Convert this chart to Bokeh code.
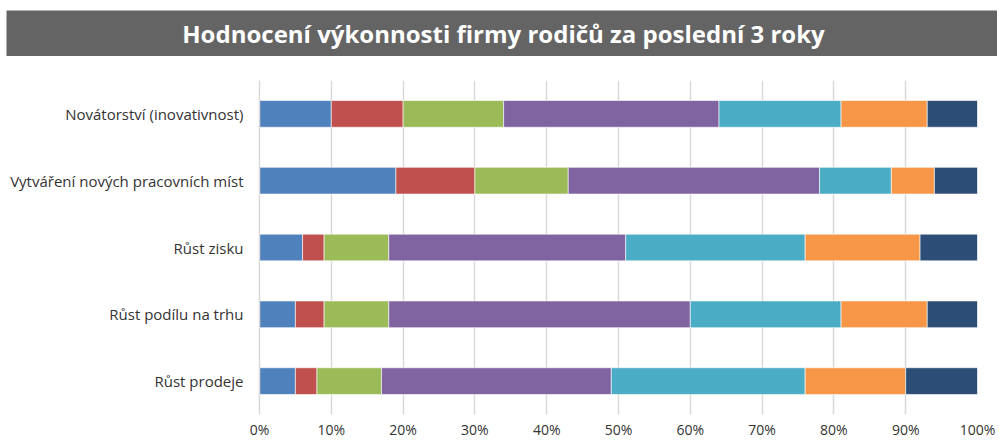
from bokeh.plotting import figure
from bokeh.layouts import column, row
from bokeh.models import ColumnDataSource, FixedTicker, Range1d, Label, Spacer, CustomJSTickFormatter
from bokeh.embed import file_html
from bokeh.resources import INLINE

title_text = "Hodnocení výkonnosti firmy rodičů za poslední 3 roky"

categories = [
    "Novátorství (inovativnost)",
    "Vytváření nových pracovních míst",
    "Růst zisku",
    "Růst podílu na trhu",
    "Růst prodeje",
]

s1 = [10, 19, 6, 5, 5]
s2 = [10, 11, 3, 4, 3]
s3 = [14, 13, 9, 9, 9]
s4 = [30, 35, 33, 42, 32]
s5 = [17, 10, 25, 21, 27]
s6 = [12, 6, 16, 12, 14]
s7 = [7, 6, 8, 7, 10]

series_names = ["s1", "s2", "s3", "s4", "s5", "s6", "s7"]
colors = ["#4F81BD", "#C0504D", "#9BBB59", "#8064A2", "#4BACC6", "#F79646", "#2C4D75"]
x_ticks = [0, 10, 20, 30, 40, 50, 60, 70, 80, 90, 100]

W = 998
LEFT = 259
FRAME_W = 718
RIGHT = W - LEFT - FRAME_W
FONT = "Open Sans"

# Title bar (full-width frame)
TW = 991
tf = figure(width=TW, height=46, x_range=Range1d(0, TW), y_range=Range1d(0, 1),
            output_backend="svg", toolbar_location=None,
            min_border_left=0, min_border_right=0, min_border_top=0, min_border_bottom=0)
tf.axis.visible = False
tf.grid.visible = False
tf.outline_line_color = None
tf.background_fill_color = "#646464"
tf.border_fill_color = "#646464"
tf.add_layout(Label(x=497, y=0.5, text=title_text, text_align="center", text_baseline="middle",
                    text_color="white", text_font=FONT, text_font_style="bold",
                    text_font_size="24px"))

# Main chart
data = dict(cat=categories, s1=s1, s2=s2, s3=s3, s4=s4, s5=s5, s6=s6, s7=s7)
source = ColumnDataSource(data)

p = figure(width=W, height=390, y_range=list(reversed(categories)),
           x_range=Range1d(0, 100), output_backend="svg", toolbar_location=None,
           min_border_left=LEFT, min_border_right=RIGHT, min_border_top=24, min_border_bottom=32)
p.hbar_stack(series_names, y="cat", height=0.4, color=colors, source=source,
             line_color="white", line_width=0.6)

p.outline_line_color = None
p.ygrid.visible = False
p.xgrid.grid_line_color = "#d9d9d9"
p.xgrid.grid_line_width = 1.5
p.xgrid.ticker = FixedTicker(ticks=x_ticks)

p.xaxis.ticker = FixedTicker(ticks=x_ticks)
p.xaxis.formatter = CustomJSTickFormatter(code="return tick + '%';")
p.xaxis.axis_line_color = None
p.xaxis.major_tick_line_color = None
p.xaxis.minor_tick_line_color = None
p.xaxis.major_tick_out = 0
p.xaxis.major_tick_in = 0
p.xaxis.major_label_standoff = 5
p.xaxis.major_label_text_font = FONT
p.xaxis.major_label_text_font_size = "14px"
p.xaxis.major_label_text_color = "#333333"

p.yaxis.axis_line_color = "#d9d9d9"
p.yaxis.axis_line_width = 1.5
p.yaxis.major_tick_line_color = None
p.yaxis.minor_tick_line_color = None
p.yaxis.major_tick_out = 0
p.yaxis.major_tick_in = 0
p.yaxis.major_label_standoff = 16
p.yaxis.major_label_text_font = FONT
p.yaxis.major_label_text_font_size = "15px"
p.yaxis.major_label_text_color = "#333333"

layout = column(Spacer(height=10), row(Spacer(width=6), tf, spacing=0), p, spacing=0)
open("out.html", "w").write(file_html(layout, INLINE))
